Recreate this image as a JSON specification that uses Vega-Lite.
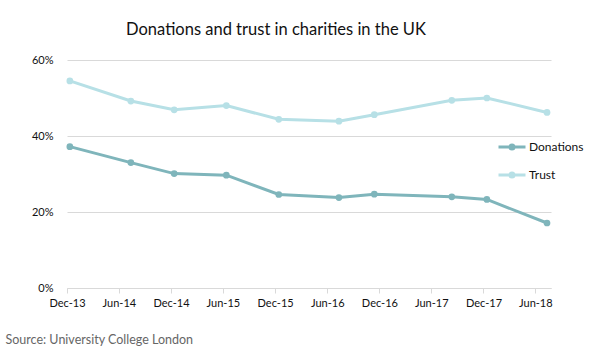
{
  "$schema": "https://vega.github.io/schema/vega-lite/v6.json",
  "width": 484,
  "height": 228,
  "autosize": "none",
  "padding": {"left": 67, "top": 60, "right": 49, "bottom": 65},
  "background": "white",
  "config": {"font": "Lato", "view": {"stroke": null}},
  "title": {"text": "Donations and trust in charities in the UK", "fontSize": 16.5, "fontWeight": "normal", "color": "#111111", "offset": 16, "dx": -33, "font": "Lato"},
  "data": {"values": [
    {"date": "2013-12-11", "series": "Donations", "value": 0.372},
    {"date": "2014-07-13", "series": "Donations", "value": 0.330},
    {"date": "2014-12-12", "series": "Donations", "value": 0.301},
    {"date": "2015-06-13", "series": "Donations", "value": 0.297},
    {"date": "2015-12-14", "series": "Donations", "value": 0.246},
    {"date": "2016-07-12", "series": "Donations", "value": 0.238},
    {"date": "2016-11-13", "series": "Donations", "value": 0.247},
    {"date": "2017-08-12", "series": "Donations", "value": 0.240},
    {"date": "2017-12-13", "series": "Donations", "value": 0.233},
    {"date": "2018-07-12", "series": "Donations", "value": 0.171},
    {"date": "2013-12-11", "series": "Trust", "value": 0.545},
    {"date": "2014-07-13", "series": "Trust", "value": 0.492},
    {"date": "2014-12-12", "series": "Trust", "value": 0.469},
    {"date": "2015-06-13", "series": "Trust", "value": 0.480},
    {"date": "2015-12-14", "series": "Trust", "value": 0.444},
    {"date": "2016-07-12", "series": "Trust", "value": 0.439},
    {"date": "2016-11-13", "series": "Trust", "value": 0.456},
    {"date": "2017-08-12", "series": "Trust", "value": 0.494},
    {"date": "2017-12-13", "series": "Trust", "value": 0.500},
    {"date": "2018-07-12", "series": "Trust", "value": 0.462}
  ]},
  "encoding": {
    "x": {
      "field": "date", "type": "temporal",
      "scale": {"type": "utc", "domain": [{"year": 2013, "month": 12, "date": 1, "utc": true}, {"year": 2018, "month": 7, "date": 26, "utc": true}]},
      "axis": {
        "values": [
          {"year": 2013, "month": 12, "date": 1, "utc": true},
          {"year": 2014, "month": 6, "date": 1, "utc": true},
          {"year": 2014, "month": 12, "date": 1, "utc": true},
          {"year": 2015, "month": 6, "date": 1, "utc": true},
          {"year": 2015, "month": 12, "date": 1, "utc": true},
          {"year": 2016, "month": 6, "date": 1, "utc": true},
          {"year": 2016, "month": 12, "date": 1, "utc": true},
          {"year": 2017, "month": 6, "date": 1, "utc": true},
          {"year": 2017, "month": 12, "date": 1, "utc": true},
          {"year": 2018, "month": 6, "date": 1, "utc": true}
        ],
        "format": "%b-%y",
        "grid": false,
        "labelFontSize": 11,
        "labelColor": "#111111",
        "labelPadding": 4,
        "labelFlush": false,
        "labelOverlap": false,
        "tickSize": 5,
        "tickColor": "#d9d9d9",
        "domainColor": "#d9d9d9",
        "title": "Source: University College London",
        "titleFontSize": 12.5,
        "titleFontWeight": "normal",
        "titleColor": "#666666",
        "titleAlign": "left",
        "titleBaseline": "alphabetic",
        "titleX": -62,
        "titleY": 55
      }
    },
    "y": {
      "field": "value", "type": "quantitative",
      "scale": {"domain": [0, 0.6]},
      "axis": {
        "values": [0, 0.2, 0.4, 0.6],
        "format": ".0%",
        "grid": true,
        "gridColor": "#d9d9d9",
        "domain": false,
        "ticks": false,
        "labelPadding": 14,
        "labelFontSize": 11,
        "labelColor": "#111111",
        "title": null
      }
    },
    "color": {
      "field": "series", "type": "nominal",
      "scale": {"range": ["#7fb5bb", "#b7e0e6"]},
      "legend": {
        "orient": "none",
        "legendX": 430,
        "legendY": 72,
        "title": null,
        "padding": 0,
        "labelFontSize": 12,
        "labelColor": "#111111",
        "labelOffset": 2,
        "rowPadding": 4,
        "symbolType": "M-1,0H1M0.15,0A0.15,0.15 0 1 1 -0.15,0A0.15,0.15 0 1 1 0.15,0Z",
        "symbolSize": 729,
        "symbolStrokeWidth": 3
      }
    }
  },
  "layer": [
    {"mark": {"type": "line", "strokeWidth": 3}},
    {"mark": {"type": "point", "filled": true, "size": 45, "opacity": 1}}
  ]
}
